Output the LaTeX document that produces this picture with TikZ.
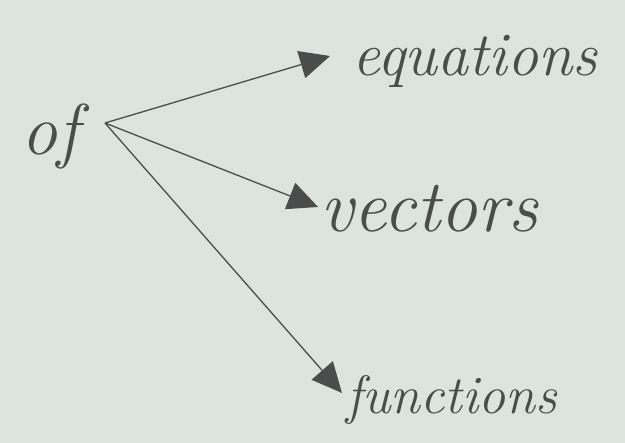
\documentclass[tikz,border=0pt]{standalone}
\usetikzlibrary{arrows.meta}
\definecolor{paper}{HTML}{DDE3DF}
\definecolor{ink}{HTML}{4A4D4C}
\begin{document}
\begin{tikzpicture}[x=1pt,y=-1pt,
  conn/.style={draw=ink,line width=1.3pt,-{Triangle[length=30pt,width=28pt,fill=ink]}},
  word/.style={text=ink,inner sep=0pt,anchor=base west}]
\fill[paper] (0,0) rectangle (625,443);
\useasboundingbox (0,0) rectangle (625,443);
\coordinate (hub) at (105,123);
\node[word,anchor=base,font=\fontsize{72}{76}\selectfont\itshape] (of) at (50,155) {of};
\node[word,font=\fontsize{62}{66}\selectfont\itshape] (eq) at (352,76) {equations};
\node[word,font=\fontsize{74}{78}\selectfont\itshape] (ve) at (320,232) {vectors};
\node[word,font=\fontsize{54}{58}\selectfont\itshape] (fu) at (346,414) {functions};
\coordinate (t1) at (330,56);
\coordinate (t2) at (318,207);
\coordinate (t3) at (342,393);
\draw[conn] (hub) -- (t1);
\draw[conn] (hub) -- (t2);
\draw[conn] (hub) -- (t3);
\end{tikzpicture}
\end{document}
